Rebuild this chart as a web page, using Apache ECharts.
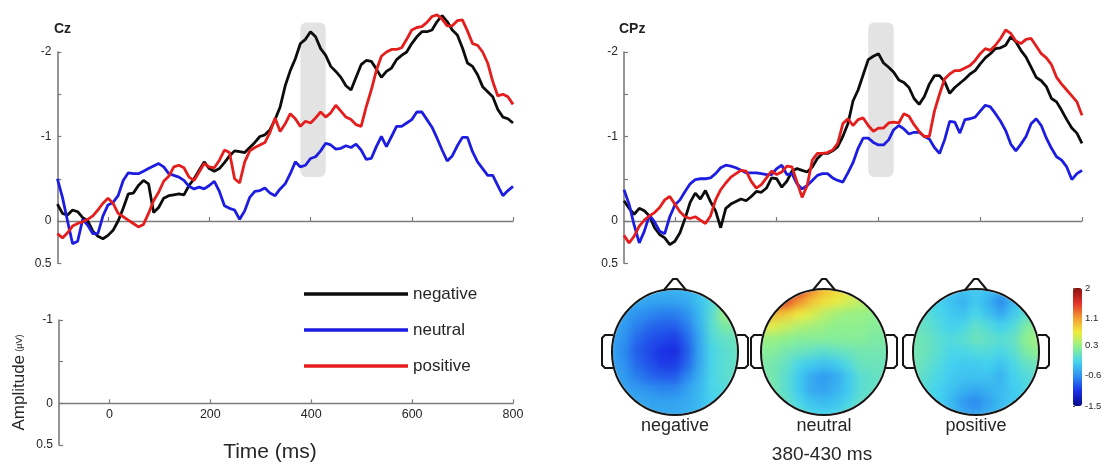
<!DOCTYPE html>
<html>
<head>
<meta charset="utf-8">
<script src="https://cdn.jsdelivr.net/npm/echarts@6/dist/echarts.min.js"></script>
<style>
  html, body { margin: 0; padding: 0; background: #fff; }
  #wrap { position: relative; width: 1110px; height: 465px; overflow: hidden; }
  #maps { position: absolute; left: 0; top: 0; width: 1110px; height: 465px; filter: blur(4px); }
  #main { position: absolute; left: 0; top: 0; width: 1110px; height: 465px; }
</style>
</head>
<body>
<div id="wrap">
  <div id="maps"></div>
  <div id="main"></div>
</div>
<script>
// ---- ERP time base (ms) ----
const times = [-100,-90,-80,-70,-60,-50,-40,-30,-20,-10,0,10,20,30,40,50,60,70,80,90,
  100,110,120,130,140,150,160,170,180,190,200,210,220,230,240,250,260,270,280,290,
  300,310,320,330,340,350,360,370,380,390,400,410,420,430,440,450,460,470,480,490,
  500,510,520,530,540,550,560,570,580,590,600,610,620,630,640,650,660,670,680,690,
  700,710,720,730,740,750,760,770,780,790,800];

// ---- Cz grand averages (µV) ----
const czNegative = [-0.20,-0.09,-0.07,-0.13,-0.11,-0.04,0.00,0.12,0.18,0.21,
  0.17,0.11,0.00,-0.15,-0.32,-0.33,-0.42,-0.48,-0.44,-0.10,
  -0.16,-0.27,-0.30,-0.31,-0.32,-0.31,-0.42,-0.50,-0.60,-0.70,
  -0.62,-0.59,-0.62,-0.69,-0.77,-0.83,-0.82,-0.81,-0.87,-0.93,
  -1.00,-1.02,-1.08,-1.20,-1.35,-1.60,-1.78,-1.92,-2.10,-2.15,
  -2.24,-2.18,-2.04,-1.96,-1.83,-1.77,-1.70,-1.60,-1.55,-1.70,
  -1.85,-1.90,-1.89,-1.80,-1.70,-1.77,-1.81,-1.91,-1.96,-2.00,
  -2.10,-2.18,-2.24,-2.24,-2.26,-2.36,-2.43,-2.36,-2.26,-2.20,
  -2.05,-1.87,-1.83,-1.73,-1.59,-1.53,-1.47,-1.32,-1.23,-1.21,-1.16];
const czNeutral = [-0.50,-0.28,0.00,0.27,0.24,-0.02,0.05,0.15,0.15,-0.06,
  -0.19,-0.22,-0.30,-0.48,-0.57,-0.56,-0.56,-0.59,-0.62,-0.65,
  -0.68,-0.64,-0.56,-0.54,-0.52,-0.48,-0.41,-0.38,-0.40,-0.38,
  -0.42,-0.47,-0.35,-0.18,-0.15,-0.13,-0.02,-0.12,-0.28,-0.35,
  -0.36,-0.39,-0.33,-0.30,-0.38,-0.44,-0.56,-0.70,-0.64,-0.66,
  -0.74,-0.76,-0.83,-0.92,-0.90,-0.85,-0.86,-0.89,-0.87,-0.91,
  -0.84,-0.73,-0.74,-0.88,-1.00,-0.88,-1.00,-1.12,-1.12,-1.16,
  -1.20,-1.29,-1.29,-1.20,-1.11,-0.98,-0.84,-0.71,-0.77,-0.89,
  -0.99,-0.99,-0.82,-0.70,-0.62,-0.54,-0.54,-0.42,-0.30,-0.36,-0.41];
const czPositive = [0.15,0.20,0.14,0.06,0.03,0.01,-0.02,-0.06,-0.13,-0.21,
  -0.27,-0.21,-0.09,-0.05,-0.01,0.03,0.07,0.04,-0.09,-0.24,
  -0.34,-0.47,-0.53,-0.64,-0.66,-0.63,-0.52,-0.48,-0.58,-0.68,
  -0.64,-0.63,-0.72,-0.84,-0.81,-0.50,-0.45,-0.70,-0.83,-0.87,
  -0.90,-0.93,-1.05,-1.22,-1.06,-1.15,-1.27,-1.21,-1.12,-1.18,
  -1.16,-1.22,-1.29,-1.23,-1.28,-1.37,-1.30,-1.23,-1.20,-1.14,
  -1.12,-1.35,-1.55,-1.78,-1.95,-2.00,-2.03,-2.03,-2.05,-2.15,
  -2.26,-2.29,-2.30,-2.35,-2.42,-2.44,-2.39,-2.31,-2.31,-2.37,
  -2.38,-2.25,-2.10,-2.08,-2.00,-1.87,-1.65,-1.48,-1.50,-1.47,-1.38];

// ---- CPz grand averages (µV) ----
const cpzNegative = [-0.24,-0.15,-0.08,-0.15,-0.12,-0.06,0.08,0.16,0.20,0.28,
  0.24,0.14,-0.03,-0.22,-0.33,-0.26,-0.36,-0.23,-0.12,0.08,
  -0.15,-0.20,-0.23,-0.26,-0.24,-0.29,-0.35,-0.34,-0.39,-0.51,
  -0.50,-0.40,-0.47,-0.59,-0.62,-0.60,-0.58,-0.64,-0.74,-0.80,
  -0.80,-0.83,-0.88,-1.00,-1.15,-1.42,-1.55,-1.73,-1.91,-1.95,
  -1.98,-1.87,-1.82,-1.76,-1.67,-1.64,-1.58,-1.45,-1.38,-1.47,
  -1.62,-1.72,-1.72,-1.65,-1.51,-1.58,-1.63,-1.68,-1.74,-1.78,
  -1.86,-1.93,-1.98,-2.04,-2.05,-2.08,-2.18,-2.12,-2.02,-1.94,
  -1.82,-1.70,-1.66,-1.59,-1.45,-1.41,-1.31,-1.20,-1.10,-1.04,-0.92];
const cpzNeutral = [-0.37,-0.20,0.05,0.26,0.12,-0.07,0.01,0.12,0.15,-0.05,
  -0.19,-0.25,-0.35,-0.44,-0.49,-0.50,-0.50,-0.51,-0.56,-0.63,
  -0.66,-0.65,-0.63,-0.60,-0.57,-0.57,-0.57,-0.56,-0.55,-0.55,
  -0.62,-0.66,-0.55,-0.56,-0.44,-0.38,-0.42,-0.48,-0.54,-0.56,
  -0.56,-0.51,-0.48,-0.46,-0.57,-0.69,-0.86,-0.98,-0.98,-0.93,
  -0.90,-0.90,-0.96,-1.08,-1.13,-1.09,-1.03,-1.05,-1.05,-1.00,
  -0.97,-0.87,-0.80,-0.96,-1.18,-1.17,-1.04,-1.20,-1.21,-1.23,
  -1.30,-1.37,-1.35,-1.27,-1.18,-1.07,-0.91,-0.83,-0.91,-1.00,
  -1.15,-1.21,-1.13,-0.98,-0.86,-0.76,-0.72,-0.64,-0.49,-0.56,-0.60];
const cpzPositive = [0.17,0.26,0.18,0.06,-0.01,-0.06,-0.10,-0.16,-0.25,-0.29,
  -0.20,-0.11,-0.05,-0.03,-0.05,-0.01,0.03,-0.06,-0.25,-0.37,
  -0.45,-0.52,-0.56,-0.60,-0.59,-0.47,-0.39,-0.43,-0.51,-0.59,
  -0.55,-0.58,-0.65,-0.64,-0.46,-0.28,-0.42,-0.72,-0.80,-0.80,
  -0.81,-0.84,-0.92,-1.15,-1.21,-1.13,-1.20,-1.22,-1.13,-1.06,
  -1.10,-1.10,-1.16,-1.17,-1.16,-1.27,-1.24,-1.14,-1.06,-1.00,
  -1.00,-1.30,-1.50,-1.68,-1.74,-1.78,-1.78,-1.81,-1.84,-1.90,
  -1.98,-2.04,-2.02,-2.08,-2.16,-2.26,-2.22,-2.13,-2.10,-2.15,
  -2.16,-2.07,-1.98,-1.93,-1.85,-1.70,-1.62,-1.55,-1.48,-1.41,-1.25];

// ---- axis ticks and labels ----
const timeTicks = [0, 200, 400, 600, 800];
const ampTicks = [-2, -1.5, -1, -0.5, 0, 0.5];
const ampLabels = [-2, -1, 0, 0.5];
const scaleTicks = [-1, -0.5, 0, 0.5];
const scaleLabels = [-1, 0, 0.5];
const colorbarTicks = [2, 1.1, 0.3, -0.6, -1.5];
const colorRange = [-1.5, 2];

// analysis window (ms)
const windowMs = [380, 430];

// ---- scalp maps, 380-430 ms (µV); rows front (nose) to back, columns left to right ----
const mapNegative = [
  [-0.35,-0.35,-0.35,-0.38,-0.40,-0.40,-0.38,-0.30,-0.20,-0.10,-0.05],
  [-0.35,-0.40,-0.45,-0.50,-0.50,-0.50,-0.45,-0.30,-0.10, 0.20, 0.10],
  [-0.40,-0.50,-0.60,-0.65,-0.70,-0.70,-0.60,-0.35,-0.05, 0.35, 0.10],
  [-0.45,-0.55,-0.70,-0.80,-0.85,-0.85,-0.70,-0.40,-0.05, 0.15, 0.10],
  [-0.50,-0.60,-0.80,-0.90,-0.95,-1.00,-0.80,-0.45,-0.10, 0.00, 0.05],
  [-0.50,-0.65,-0.85,-0.95,-1.05,-1.10,-0.85,-0.45,-0.15,-0.05, 0.00],
  [-0.50,-0.60,-0.80,-0.90,-1.00,-1.00,-0.80,-0.45,-0.15,-0.05, 0.00],
  [-0.45,-0.55,-0.70,-0.80,-0.85,-0.85,-0.65,-0.40,-0.15,-0.05, 0.00],
  [-0.40,-0.50,-0.55,-0.60,-0.65,-0.65,-0.50,-0.35,-0.15,-0.10,-0.05],
  [-0.35,-0.40,-0.45,-0.50,-0.50,-0.50,-0.45,-0.35,-0.20,-0.15,-0.10],
  [-0.30,-0.35,-0.40,-0.45,-0.45,-0.45,-0.40,-0.35,-0.25,-0.20,-0.15]
];
const mapNeutral = [
  [1.30, 1.60, 1.75, 1.55, 1.20, 0.95, 0.80, 0.70, 0.60, 0.45, 0.40],
  [1.30, 1.50, 1.45, 1.15, 0.90, 0.75, 0.65, 0.55, 0.45, 0.40, 0.35],
  [1.00, 0.95, 0.85, 0.70, 0.60, 0.45, 0.35, 0.30, 0.30, 0.25, 0.25],
  [0.65, 0.60, 0.50, 0.40, 0.35, 0.30, 0.25, 0.25, 0.25, 0.20, 0.20],
  [0.30, 0.30, 0.25, 0.20, 0.20, 0.20, 0.20, 0.20, 0.20, 0.15, 0.15],
  [0.20, 0.20, 0.10, 0.05, 0.00,-0.05, 0.00, 0.05, 0.10, 0.10, 0.10],
  [0.15, 0.10, 0.00,-0.15,-0.25,-0.30,-0.25,-0.10, 0.05, 0.05, 0.05],
  [0.15, 0.10,-0.05,-0.25,-0.45,-0.55,-0.45,-0.25,-0.05, 0.00, 0.05],
  [0.15, 0.10,-0.05,-0.25,-0.45,-0.50,-0.40,-0.25,-0.05, 0.00, 0.05],
  [0.15, 0.10, 0.00,-0.15,-0.30,-0.35,-0.30,-0.15, 0.00, 0.00, 0.05],
  [0.15, 0.10, 0.05,-0.05,-0.15,-0.20,-0.15,-0.05, 0.00, 0.05, 0.05]
];
const mapPositive = [
  [-0.10,-0.15,-0.20,-0.25,-0.30,-0.25,-0.30,-0.35,-0.25,-0.15,-0.10],
  [-0.05,-0.10,-0.20,-0.30,-0.40,-0.25,-0.40,-0.65,-0.35,-0.15,-0.05],
  [ 0.00,-0.05,-0.15,-0.25,-0.30,-0.15,-0.30,-0.45,-0.25,-0.05, 0.05],
  [ 0.05, 0.00,-0.10,-0.20,-0.15, 0.00,-0.10,-0.20,-0.10, 0.15, 0.25],
  [ 0.10, 0.05,-0.05,-0.10,-0.05, 0.05, 0.00,-0.05, 0.00, 0.25, 0.35],
  [ 0.10, 0.05,-0.05,-0.15,-0.15,-0.10,-0.10,-0.15,-0.05, 0.15, 0.25],
  [ 0.10, 0.00,-0.10,-0.20,-0.25,-0.25,-0.20,-0.30,-0.15, 0.00, 0.05],
  [ 0.05,-0.05,-0.15,-0.25,-0.30,-0.30,-0.30,-0.40,-0.20,-0.10,-0.05],
  [ 0.00,-0.10,-0.20,-0.30,-0.40,-0.45,-0.40,-0.35,-0.25,-0.15,-0.10],
  [-0.05,-0.10,-0.20,-0.35,-0.55,-0.65,-0.50,-0.35,-0.25,-0.15,-0.10],
  [-0.10,-0.15,-0.20,-0.30,-0.45,-0.50,-0.40,-0.30,-0.20,-0.15,-0.10]
];
const mapNames = ['negative', 'neutral', 'positive'];

// ---- styling ----
const FONT = "'Liberation Sans', Arial, Helvetica, sans-serif";
const TXT = '#262626';
const AXIS = '#7c7c7c';
const LINE_COLORS = { negative: '#0c0c0c', neutral: '#1d1de2', positive: '#e41d1d' };
const JET = ['#0a0a86', '#1a2ee6', '#2c8ef0', '#44d4f0', '#8ef08e', '#f0ec3c', '#f29830', '#e2302a', '#861010'];

const heads = [
  { cx: 675, cy: 352 },
  { cx: 824, cy: 352 },
  { cx: 976, cy: 352 }
];
const HEAD_R = 63;
const BAND_Y = [-2.35, -0.52];

const pairs = vals => times.map((t, i) => [t, vals[i]]);

// ---------------- scalp-map colour fields ----------------
const mapsEl = document.getElementById('maps');
let clip = '';
heads.forEach(h => {
  const r = HEAD_R - 1;
  clip += `M ${h.cx - r} ${h.cy} a ${r} ${r} 0 1 0 ${2 * r} 0 a ${r} ${r} 0 1 0 ${-2 * r} 0 Z `;
});
mapsEl.style.clipPath = `path('${clip}')`;

const mapChart = echarts.init(mapsEl, null, { renderer: 'canvas' });
const cellIdx = mapNegative.map((_, i) => String(i));
const MAP_SIDE = 138;
mapChart.setOption({
  animation: false,
  grid: heads.map(h => ({ left: h.cx - MAP_SIDE / 2, top: h.cy - MAP_SIDE / 2, width: MAP_SIDE, height: MAP_SIDE })),
  xAxis: heads.map((h, i) => ({ type: 'category', gridIndex: i, data: cellIdx, show: false })),
  yAxis: heads.map((h, i) => ({ type: 'category', gridIndex: i, data: cellIdx, inverse: true, show: false })),
  visualMap: {
    type: 'continuous', show: false, min: colorRange[0], max: colorRange[1],
    seriesIndex: [0, 1, 2], inRange: { color: JET }
  },
  series: [mapNegative, mapNeutral, mapPositive].map((grid, i) => ({
    type: 'heatmap', name: mapNames[i], xAxisIndex: i, yAxisIndex: i,
    data: grid.flatMap((row, r) => row.map((v, c) => [c, r, v])),
    itemStyle: { borderWidth: 0 }, silent: true
  }))
});

// ---------------- main figure ----------------
const chart = echarts.init(document.getElementById('main'), null, { renderer: 'canvas' });

function timeAxis(gridIndex, labelMargin) {
  return {
    type: 'value', gridIndex, min: -100, max: 800,
    axisLine: { onZero: true, lineStyle: { color: AXIS, width: 1.3 } },
    axisTick: { show: true, inside: true, length: 4, customValues: timeTicks, lineStyle: { color: AXIS, width: 1.2 } },
    axisLabel: labelMargin !== undefined
      ? { show: true, customValues: timeTicks, fontSize: 12.5, color: TXT, fontFamily: FONT, margin: labelMargin }
      : { show: false },
    splitLine: { show: false }
  };
}
function ampAxis(gridIndex, min, max, ticks, labels, extra) {
  return Object.assign({
    type: 'value', gridIndex, min, max, inverse: true,
    axisLine: { show: true, onZero: false, lineStyle: { color: AXIS, width: 1.6 } },
    axisTick: { show: true, inside: true, length: 4, customValues: ticks, lineStyle: { color: AXIS, width: 1.2 } },
    axisLabel: { customValues: labels, fontSize: 12, color: TXT, fontFamily: FONT, margin: 6 },
    splitLine: { show: false }
  }, extra || {});
}

function bandSeries(axisIndex) {
  return {
    type: 'custom', xAxisIndex: axisIndex, yAxisIndex: axisIndex, clip: false, silent: true, z: 1,
    data: [windowMs],
    renderItem: (params, api) => {
      const p0 = api.coord([api.value(0), BAND_Y[0]]);
      const p1 = api.coord([api.value(1), BAND_Y[1]]);
      return {
        type: 'rect',
        shape: { x: p0[0], y: p0[1], width: p1[0] - p0[0], height: p1[1] - p0[1], r: 6 },
        style: { fill: '#e3e3e3' }
      };
    }
  };
}
function waveSeries(axisIndex, name, vals) {
  return {
    type: 'line', name, xAxisIndex: axisIndex, yAxisIndex: axisIndex,
    data: pairs(vals), showSymbol: false, clip: false, silent: true, z: 3,
    color: LINE_COLORS[name],
    lineStyle: { color: LINE_COLORS[name], width: 2.8 }
  };
}
function legendItem(name, centerY) {
  return {
    data: [name], left: 304, top: centerY - 10, orient: 'vertical', padding: 0,
    icon: 'rect', itemWidth: 104, itemHeight: 3.5, selectedMode: false,
    textStyle: { fontSize: 17, color: TXT, fontFamily: FONT, lineHeight: 20 }
  };
}

// head outlines: circle, nose and ears
const OUTLINE = { fill: 'none', stroke: '#141414', lineWidth: 2 };
const headGraphics = [];
heads.forEach((h, i) => {
  const { cx, cy } = h;
  headGraphics.push({ type: 'circle', shape: { cx, cy, r: HEAD_R }, silent: true, z: 10, style: OUTLINE });
  headGraphics.push({
    type: 'polyline', silent: true, z: 10, style: OUTLINE,
    shape: { points: [[cx - 11, cy - HEAD_R + 1], [cx - 2, cy - HEAD_R - 10], [cx + 2, cy - HEAD_R - 10], [cx + 11, cy - HEAD_R + 1]] }
  });
  const ey0 = cy - 17, ey1 = cy + 16;
  [-1, 1].forEach(side => {
    const ex = cx + side * HEAD_R;
    headGraphics.push({
      type: 'polyline', silent: true, z: 10, style: OUTLINE,
      shape: { points: [
        [ex - side, ey0], [ex + side * 7, ey0], [ex + side * 10, ey0 + 3],
        [ex + side * 10, ey1 - 3], [ex + side * 7, ey1], [ex - side, ey1]
      ] }
    });
  });
  headGraphics.push({
    type: 'text', silent: true, z: 10,
    style: { text: mapNames[i], x: cx, y: cy + HEAD_R + 11, align: 'center', verticalAlign: 'middle',
             fontSize: 18, fontFamily: FONT, fill: TXT }
  });
});

chart.setOption({
  animation: false,
  backgroundColor: 'transparent',
  textStyle: { fontFamily: FONT },
  title: [
    { text: 'Cz', left: 54, top: 22, padding: 0, textStyle: { fontSize: 14, fontWeight: 'bold', color: '#222', fontFamily: FONT } },
    { text: 'CPz', left: 619, top: 22, padding: 0, textStyle: { fontSize: 14, fontWeight: 'bold', color: '#222', fontFamily: FONT } }
  ],
  grid: [
    { left: 57.4, top: 52, width: 455.6, height: 211.25 },
    { left: 624, top: 52, width: 458, height: 211.25 },
    { left: 59, top: 320, width: 454, height: 125 },
    { left: 1073, top: 288, width: 9, height: 118 }
  ],
  xAxis: [
    timeAxis(0),
    timeAxis(1),
    timeAxis(2, -37),
    { type: 'value', gridIndex: 3, show: false }
  ],
  yAxis: [
    ampAxis(0, -2, 0.5, ampTicks, ampLabels),
    ampAxis(1, -2, 0.5, ampTicks, ampLabels),
    ampAxis(2, -1, 0.5, scaleTicks, scaleLabels, {
      name: '{a|Amplitude} {b|(µV)}', nameLocation: 'middle', nameRotate: 90, nameGap: 31,
      nameTextStyle: { rich: {
        a: { fontSize: 17, color: TXT, fontFamily: FONT },
        b: { fontSize: 9, color: TXT, fontFamily: FONT }
      } }
    }),
    {
      type: 'value', gridIndex: 3, min: colorRange[0], max: colorRange[1], position: 'right',
      axisLine: { show: false },
      axisTick: { show: true, length: 2, customValues: colorbarTicks, lineStyle: { color: '#555' } },
      axisLabel: { customValues: colorbarTicks, fontSize: 9.5, color: TXT, fontFamily: FONT, margin: 3 },
      splitLine: { show: false }
    }
  ],
  visualMap: {
    type: 'continuous', min: colorRange[0], max: colorRange[1], seriesIndex: [],
    calculable: false, hoverLink: false, left: 1073, top: 288, padding: 0,
    itemWidth: 9, itemHeight: 118, inRange: { color: JET }
  },
  legend: [
    legendItem('negative', 294),
    legendItem('neutral', 330),
    legendItem('positive', 366)
  ],
  series: [
    bandSeries(0),
    waveSeries(0, 'negative', czNegative),
    waveSeries(0, 'neutral', czNeutral),
    waveSeries(0, 'positive', czPositive),
    bandSeries(1),
    waveSeries(1, 'negative', cpzNegative),
    waveSeries(1, 'neutral', cpzNeutral),
    waveSeries(1, 'positive', cpzPositive)
  ],
  graphic: headGraphics.concat([
    {
      type: 'text', silent: true,
      style: { text: 'Time (ms)', x: 270, y: 452, align: 'center', verticalAlign: 'middle',
               fontSize: 21, fontFamily: FONT, fill: TXT }
    },
    {
      type: 'text', silent: true,
      style: { text: `${windowMs[0]}-${windowMs[1]} ms`, x: 822, y: 455, align: 'center', verticalAlign: 'middle',
               fontSize: 19, fontFamily: FONT, fill: TXT }
    }
  ])
});
</script>
</body>
</html>
